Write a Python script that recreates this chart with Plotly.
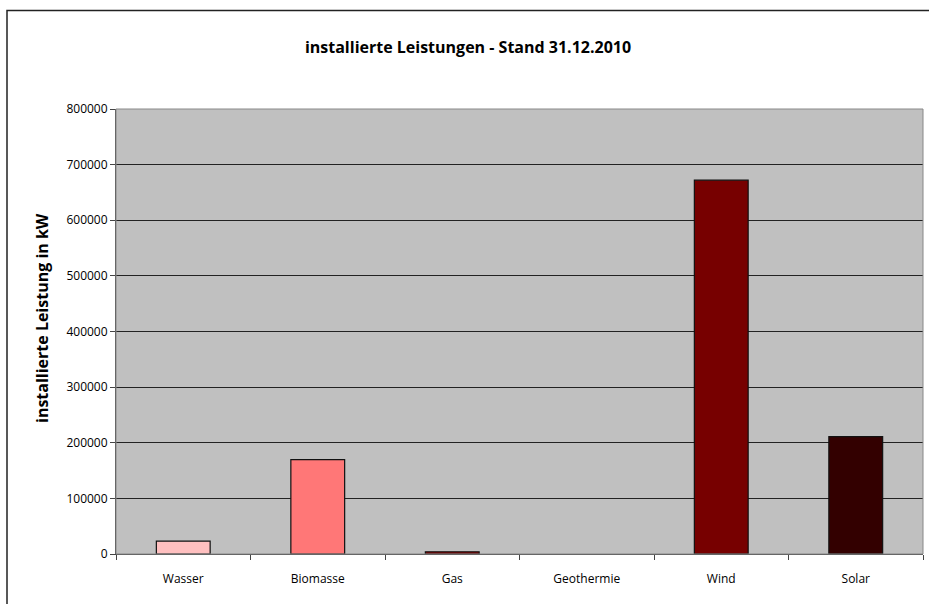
import plotly.graph_objects as go

categories = ["Wasser", "Biomasse", "Gas", "Geothermie", "Wind", "Solar"]
values = [23000, 169500, 4000, 0, 672000, 211000]
colors = ["#FFC0C0", "#FF7777", "#A00000", "#800000", "#770000", "#330000"]
y_ticks = [0, 100000, 200000, 300000, 400000, 500000, 600000, 700000, 800000]

line_widths = [0 if v == 0 else 1.2 for v in values]

fig = go.Figure(go.Bar(
    x=categories, y=values,
    marker=dict(color=colors, line=dict(color="#111111", width=line_widths)),
    width=0.4,
))

# plot area target: x 116..923, y 109..554
fig.update_layout(
    width=929, height=604,
    margin=dict(l=116, r=6, t=109, b=50),
    paper_bgcolor="white",
    plot_bgcolor="#C0C0C0",
    showlegend=False,
    title=dict(text="<b>installierte Leistungen - Stand 31.12.2010</b>",
               x=468 / 929, xanchor="center", y=1 - 47 / 604, yanchor="middle",
               xref="container", yref="container",
               font=dict(family="Open Sans", size=16, color="black")),
    xaxis=dict(
        tickfont=dict(family="Open Sans", size=12, color="black"),
        showline=True, linecolor="#444444", linewidth=1,
        ticks="outside", tickson="boundaries", ticklen=5, tickcolor="#444444",
        showgrid=False, mirror=False, ticklabelstandoff=14,
    ),
    yaxis=dict(
        range=[0, 800000], tickvals=y_ticks, ticktext=[str(v) for v in y_ticks],
        tickfont=dict(family="Open Sans", size=12, color="black"),
        showline=True, linecolor="#444444", linewidth=1,
        ticks="outside", ticklen=5, tickcolor="#444444",
        showgrid=True, gridcolor="#222222", gridwidth=1,
        zeroline=False,
    ),
    annotations=[
        dict(text="<b>installierte Leistung in kW</b>", textangle=-90,
             xref="paper", yref="paper",
             x=(42 - 116) / 807, y=(554 - 318) / 445,
             xanchor="center", yanchor="middle", showarrow=False,
             font=dict(family="Open Sans", size=16, color="black")),
    ],
    shapes=[
        dict(type="rect", xref="paper", yref="paper", x0=0, x1=1, y0=0, y1=1,
             line=dict(color="#888888", width=1), fillcolor="rgba(0,0,0,0)"),
        dict(type="rect", xref="paper", yref="paper",
             x0=(7 - 116) / 807, x1=(940 - 116) / 807,
             y0=(554 - 620) / 445, y1=(554 - 10.5) / 445,
             line=dict(color="#222222", width=1.5), fillcolor="rgba(0,0,0,0)"),
    ],
    bargap=0.6,
)

fig.write_html("out.html", config={"displayModeBar": False},
               post_script="document.body.style.margin='0px';")
